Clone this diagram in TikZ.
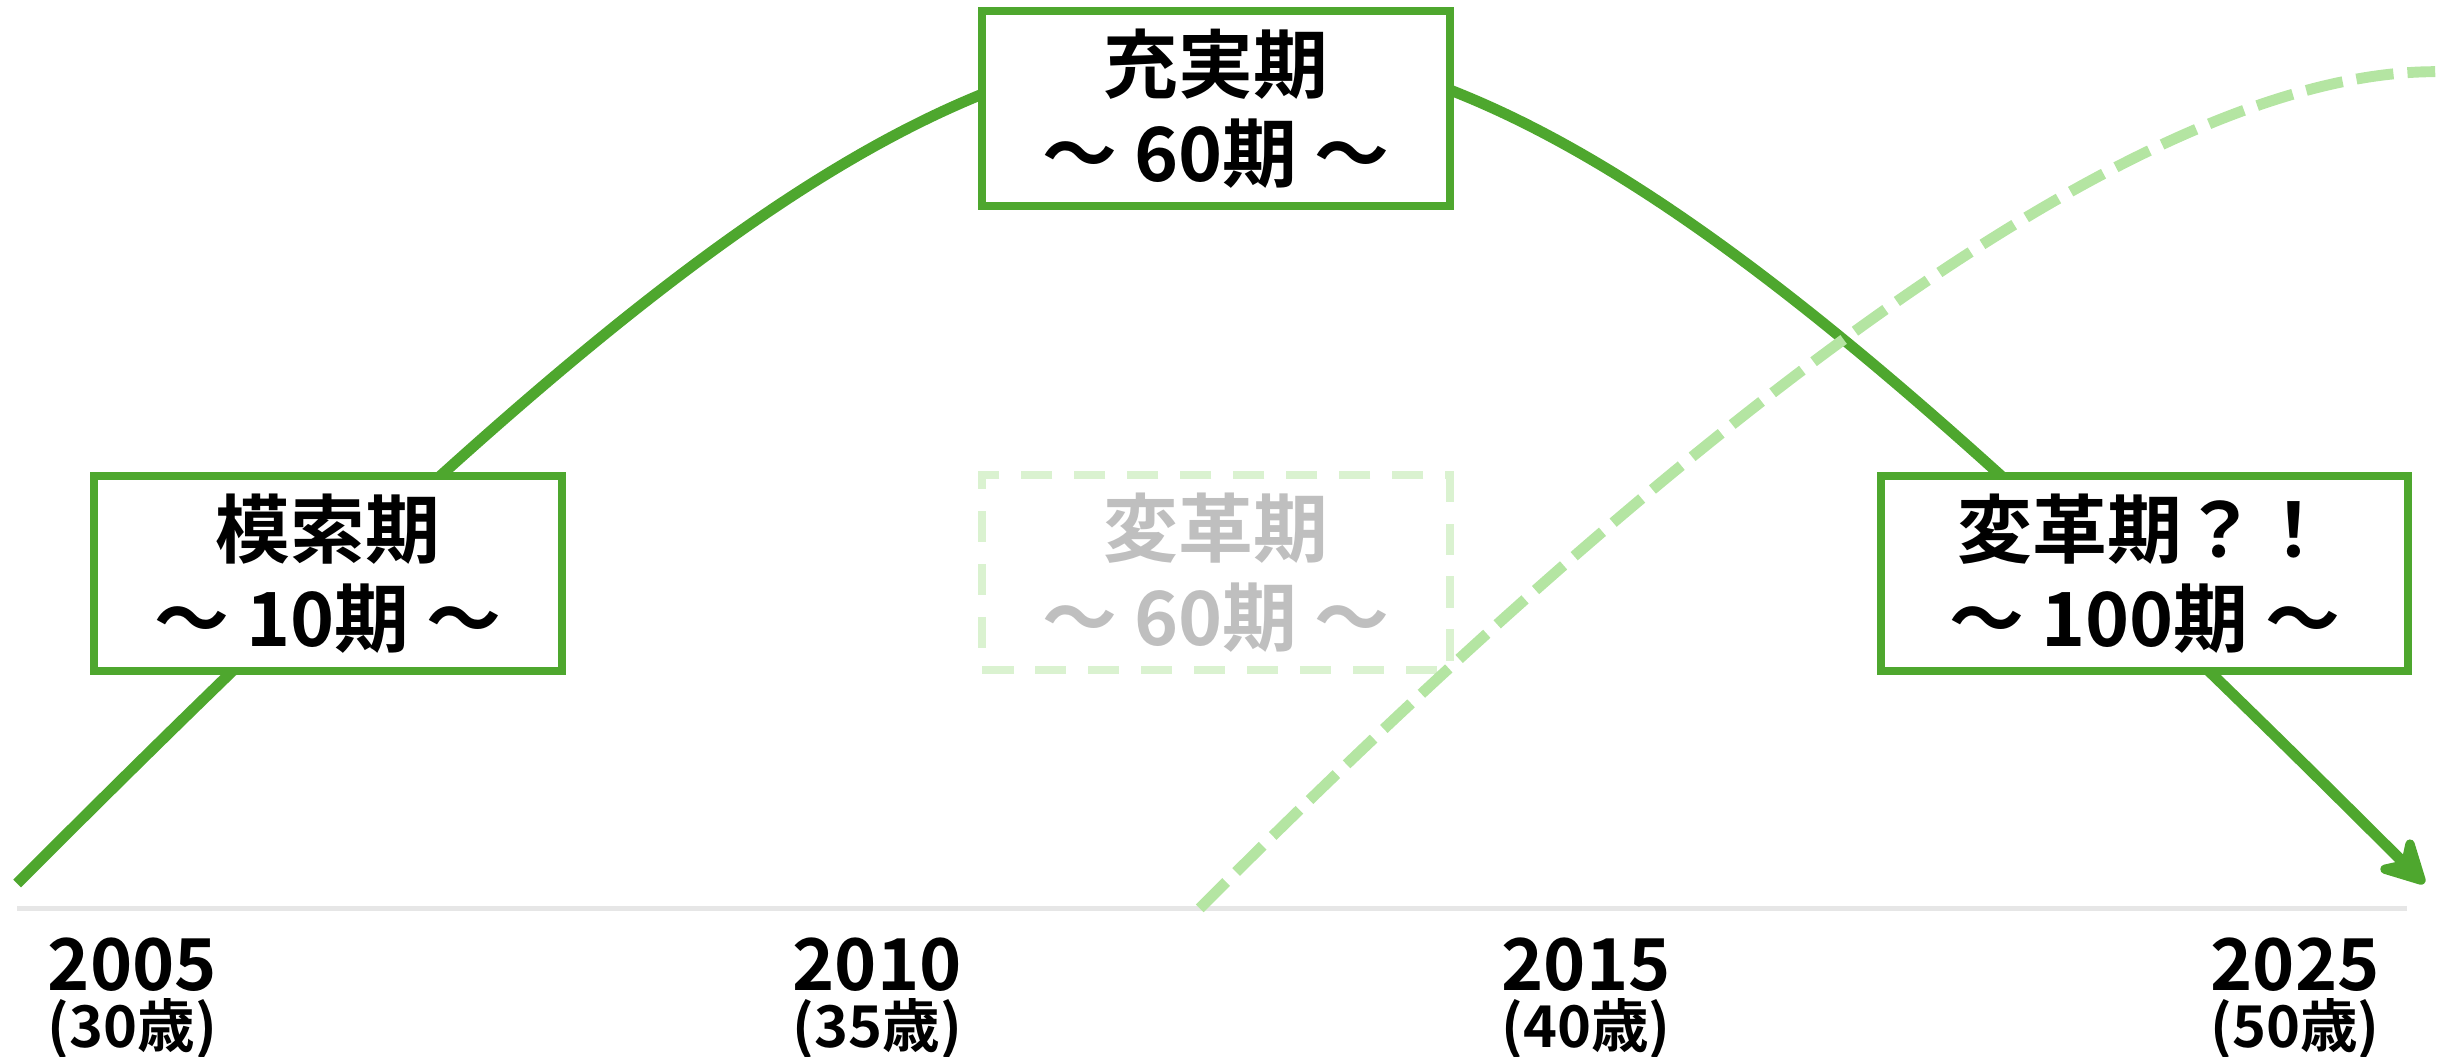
\documentclass[tikz,border=0pt]{standalone}
\usepackage{fontspec}
\newfontfamily\jpb{Noto Sans CJK JP Bold}
\usetikzlibrary{arrows.meta}
\definecolor{mygreen}{HTML}{4EA72E}
\definecolor{lightgreen}{HTML}{B4E5A2}
\definecolor{palegreen}{HTML}{DAF2D0}
\definecolor{axisgray}{HTML}{E6E6E6}
\definecolor{ghost}{HTML}{BFBFBF}
\pgfdeclarelayer{bg}
\pgfsetlayers{bg,main}
\tikzset{
  box/.style={draw=mygreen, line width=5pt, fill=white, minimum width=300pt,
    minimum height=125pt, inner sep=0pt, align=center,
    font=\jpb\fontsize{48}{57}\selectfont},
  ghostbox/.style={draw=palegreen, line width=5pt, dash pattern=on 20pt off 14pt,
    minimum width=300pt, minimum height=125pt, inner sep=0pt, align=center,
    text=ghost, font=\jpb\fontsize{48}{57}\selectfont},
  yearlbl/.style={inner sep=0pt, font=\jpb\fontsize{46}{50}\selectfont},
  agelbl/.style={inner sep=0pt, font=\jpb\fontsize{37}{40}\selectfont},
  maincurve/.style={draw=mygreen, line width=7pt},
  altcurve/.style={draw=lightgreen, line width=7pt, dash pattern=on 24pt off 9pt},
  axisline/.style={draw=axisgray, line width=3pt}
}
\begin{document}
\begin{tikzpicture}[x=1pt, y=-1pt]
\useasboundingbox (0,0) rectangle (1568,678);
% axis
\coordinate (axL) at (11,583);
\coordinate (axR) at (1545,583);
% boxes
\node[box] (b1) at (210.5,368) {模索期\\～ 10期 ～};
\node[box] (b2) at (780.5,69.5) {充実期\\～ 60期 ～};
\node[ghostbox] (b3) at (780.5,367.5) {変革期\\～ 60期 ～};
\node[box, minimum width=338pt] (b4) at (1376.5,368) {変革期？！\\～ 100期 ～};
% years
\node[yearlbl] (y1) at (85,619) {2005};
\node[agelbl] (a1) at (85,660) {(30歳)};
\node[yearlbl] (y2) at (563,619) {2010};
\node[agelbl] (a2) at (563,660) {(35歳)};
\node[yearlbl] (y3) at (1018,619) {2015};
\node[agelbl] (a3) at (1018,660) {(40歳)};
\node[yearlbl] (y4) at (1473,619) {2025};
\node[agelbl] (a4) at (1473,660) {(50歳)};
% curves
\coordinate (s1) at (11,567);
\coordinate (e1) at (1556,567);
\coordinate (s2) at (770,583);
\coordinate (e2) at (1563,46);
\begin{pgfonlayer}{bg}
\draw[axisline] (axL) -- (axR);
\draw[maincurve, -{Stealth[length=36pt, width=38pt, inset=12pt, round]}]
  (s1) .. controls (727,-149) and (838,-149) .. (e1);
\end{pgfonlayer}
\draw[altcurve] (s2) .. controls (1070,282) and (1368,46) .. (e2);
\end{tikzpicture}
\end{document}
